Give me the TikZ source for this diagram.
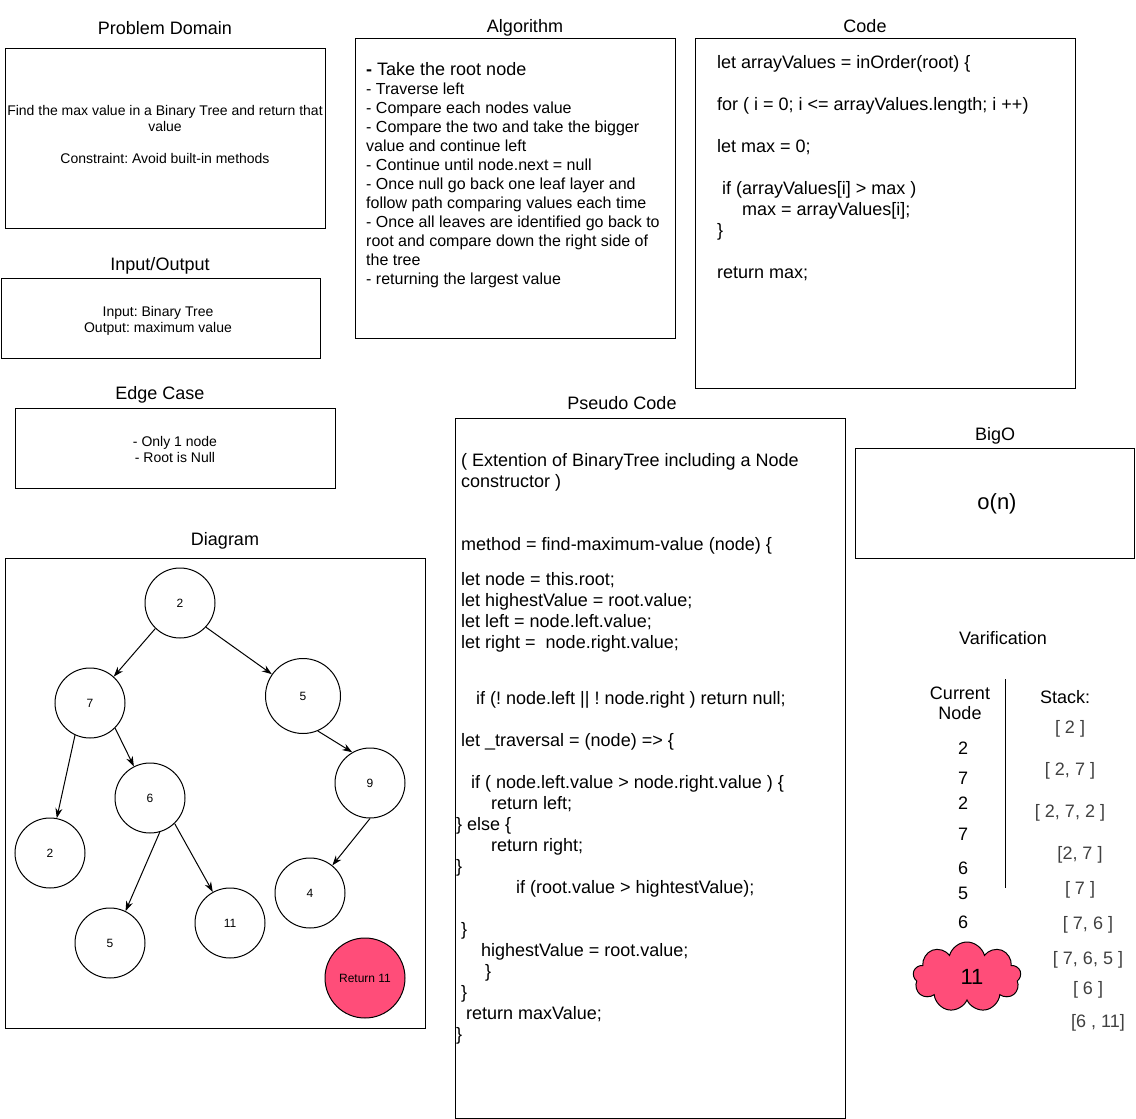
\documentclass[tikz,border=0pt]{standalone}
\usepackage{fontspec}
\setmainfont{Liberation Sans}
\usetikzlibrary{positioning,shapes.symbols,arrows.meta}

\definecolor{hotpink}{HTML}{FF4D79}
\frenchspacing

\begin{document}
\begin{tikzpicture}[x=1pt,y=-1pt,
panel/.style={draw,line width=1pt,inner sep=0pt},
heading/.style={anchor=base,font=\fontsize{18}{21}\selectfont},
note/.style={anchor=base,align=center,inner sep=0pt,font=\fontsize{14}{16}\selectfont},
listing/.style={anchor=base west,align=left,inner sep=0pt},
treenode/.style={draw,circle,line width=1pt,minimum size=70pt,inner sep=0pt,font=\fontsize{12}{14}\selectfont},
tree arrow/.style={line width=1pt,-{Stealth[length=10pt,width=7pt]}},
vnum/.style={anchor=base,inner sep=0pt,font=\fontsize{18}{20}\selectfont},
vstack/.style={anchor=base,inner sep=0pt,text=black!75,font=\fontsize{18}{20}\selectfont}
]
\useasboundingbox (0,0) rectangle (1136,1119);

% panels
\node[panel,minimum width=320pt,minimum height=180pt] (domain) at (165,138) {};
\node[panel,minimum width=319pt,minimum height=80pt] (inout) at (160.5,318) {};
\node[panel,minimum width=320pt,minimum height=80pt] (edge) at (175,448) {};
\node[panel,minimum width=320pt,minimum height=300pt] (algo) at (515,188) {};
\node[panel,minimum width=380pt,minimum height=350pt] (code) at (885,213) {};
\node[panel,minimum width=390pt,minimum height=700pt] (pseudo) at (650,768) {};
\node[panel,minimum width=279pt,minimum height=110pt] (bigo) at (995,503) {};
\node[panel,minimum width=420pt,minimum height=470pt] (diagram) at (215,793) {};

% headings
\node[heading] (domainT) at (165,34) {Problem Domain};
\node[heading] (inoutT) at (160,270) {Input/Output};
\node[heading] (edgeT) at (160,399) {Edge Case};
\node[heading] (algoT) at (525,32) {Algorithm};
\node[heading] (codeT) at (865,32) {Code};
\node[heading] (pseudoT) at (622,409) {Pseudo Code};
\node[heading] (bigoT) at (995,440) {BigO};
\node[heading] (diagramT) at (225,545) {Diagram};
\node[heading] (verifT) at (1003,644) {Varification};

% panel texts (anchored at the baseline of the last line)
\node[note] (domainX) at (165,163) {Find the max value in a Binary Tree and return that\\value\\[16pt]Constraint: Avoid built-in methods};
\node[note] (inoutX) at (158,332) {Input: Binary Tree\\Output: maximum value};
\node[note] (edgeX) at (175,462) {- Only 1 node\\- Root is Null};

\node[listing,font=\fontsize{16}{19}\selectfont] (algoX) at (366,284) {%
{\fontsize{18}{19}\selectfont\textbf{-} Take the root node}\\
- Traverse left\\
- Compare each nodes value\\
- Compare the two and take the bigger\\
value and continue left\\
- Continue until node.next = null\\
- Once null go back one leaf layer and\\
follow path comparing values each time\\
- Once all leaves are identified go back to\\
root and compare down the right side of\\
the tree\\
- returning the largest value};

\node[listing,font=\fontsize{18}{21}\selectfont] (codeX) at (717,278) {%
let arrayValues = inOrder(root) \{\\[21pt]
for ( i = 0; i <= arrayValues.length; i ++)\\[21pt]
let max = 0;\\[21pt]
\hspace*{5pt}if (arrayValues[i] > max )\\
\hspace*{25pt}max = arrayValues[i];\\
\}\\[21pt]
return max;};

\node[listing,font=\fontsize{18}{21}\selectfont] (pseudoX) at (456,1040) {%
\hspace*{5pt}( Extention of BinaryTree including a Node\\
\hspace*{5pt}constructor )\\[42pt]
\hspace*{5pt}method = find-maximum-value (node) \{\\[14pt]
\hspace*{5pt}let node = this.root;\\
\hspace*{5pt}let highestValue = root.value;\\
\hspace*{5pt}let left = node.left.value;\\
\hspace*{5pt}let right = \ node.right.value;\\[35pt]
\hspace*{20pt}if (! node.left || ! node.right ) return null;\\[21pt]
\hspace*{5pt}let \_traversal = (node) => \{\\[21pt]
\hspace*{15pt}if ( node.left.value > node.right.value ) \{\\
\hspace*{35pt}return left;\\
\} else \{\\
\hspace*{35pt}return right;\\
\}\\
\hspace*{60pt}if (root.value > hightestValue);\\[21pt]
\hspace*{5pt}\}\\
\hspace*{25pt}highestValue = root.value;\\
\hspace*{29pt}\}\\
\hspace*{5pt}\}\\
\hspace*{10pt}return maxValue;\\
\}};

\node[anchor=center,font=\fontsize{22}{24}\selectfont] (bigoX) at (997,504) {o(n)};

% tree
\node[treenode] (n2) at (180,603) {2};
\node[treenode] (n7) at (90,703) {7};
\node[treenode,minimum size=75pt] (n5) at (303,696) {5};
\node[treenode] (n9) at (370,783) {9};
\node[treenode] (n6) at (150,798) {6};
\node[treenode] (n2b) at (50,853) {2};
\node[treenode] (n4) at (310,893) {4};
\node[treenode] (n5b) at (110,943) {5};
\node[treenode] (n11) at (230,923) {11};
\node[treenode,fill=hotpink,minimum size=80pt] (ret) at (365,978) {Return 11};

\foreach \from/\to/\s/\e in {n2/n7/-134/48, n2/n5/-43/145, n7/n2b/-115/79, n7/n6/-45/117,
  n6/n5b/-74/64, n6/n11/-46/119, n5/n9/-67/120, n9/n4/-90/51}
  \draw[tree arrow] (\from.\s) -- (\to.\e);

% verification
\node[vnum,align=center] (curT) at (960,719) {Current\\Node};
\node[vnum] (stackT) at (1065,703) {Stack:};
\coordinate (divTop) at (1005,679);
\coordinate (divBot) at (1005,888);
\draw[line width=1pt] (divTop) -- (divBot);

\foreach \v/\y in {2/754, 7/784, 2/809, 7/840, 6/874, 5/899, 6/928}
  \node[vnum] (cur\y) at (963,\y) {\v};

\foreach \s/\x/\y in {{[ 2 ]}/1070/733, {[ 2, 7 ]}/1070/775, {[ 2, 7, 2 ]}/1070/817,
  {[2, 7 ]}/1080/859, {[ 7 ]}/1080/894, {[ 7, 6 ]}/1088/929,
  {[ 7, 6, 5 ]}/1088/964, {[ 6 ]}/1088/994, {[6 , 11]}/1098/1027}
  \node[vstack] (st\y) at (\x,\y) {\s};

\node[cloud,cloud puffs=9,aspect=1.6,draw,line width=1pt,fill=hotpink,
  minimum width=108pt,minimum height=70pt,inner sep=0pt,
  font=\fontsize{22}{24}\selectfont] (found) at (967,977) {\hspace*{10pt}11};
\end{tikzpicture}
\end{document}
